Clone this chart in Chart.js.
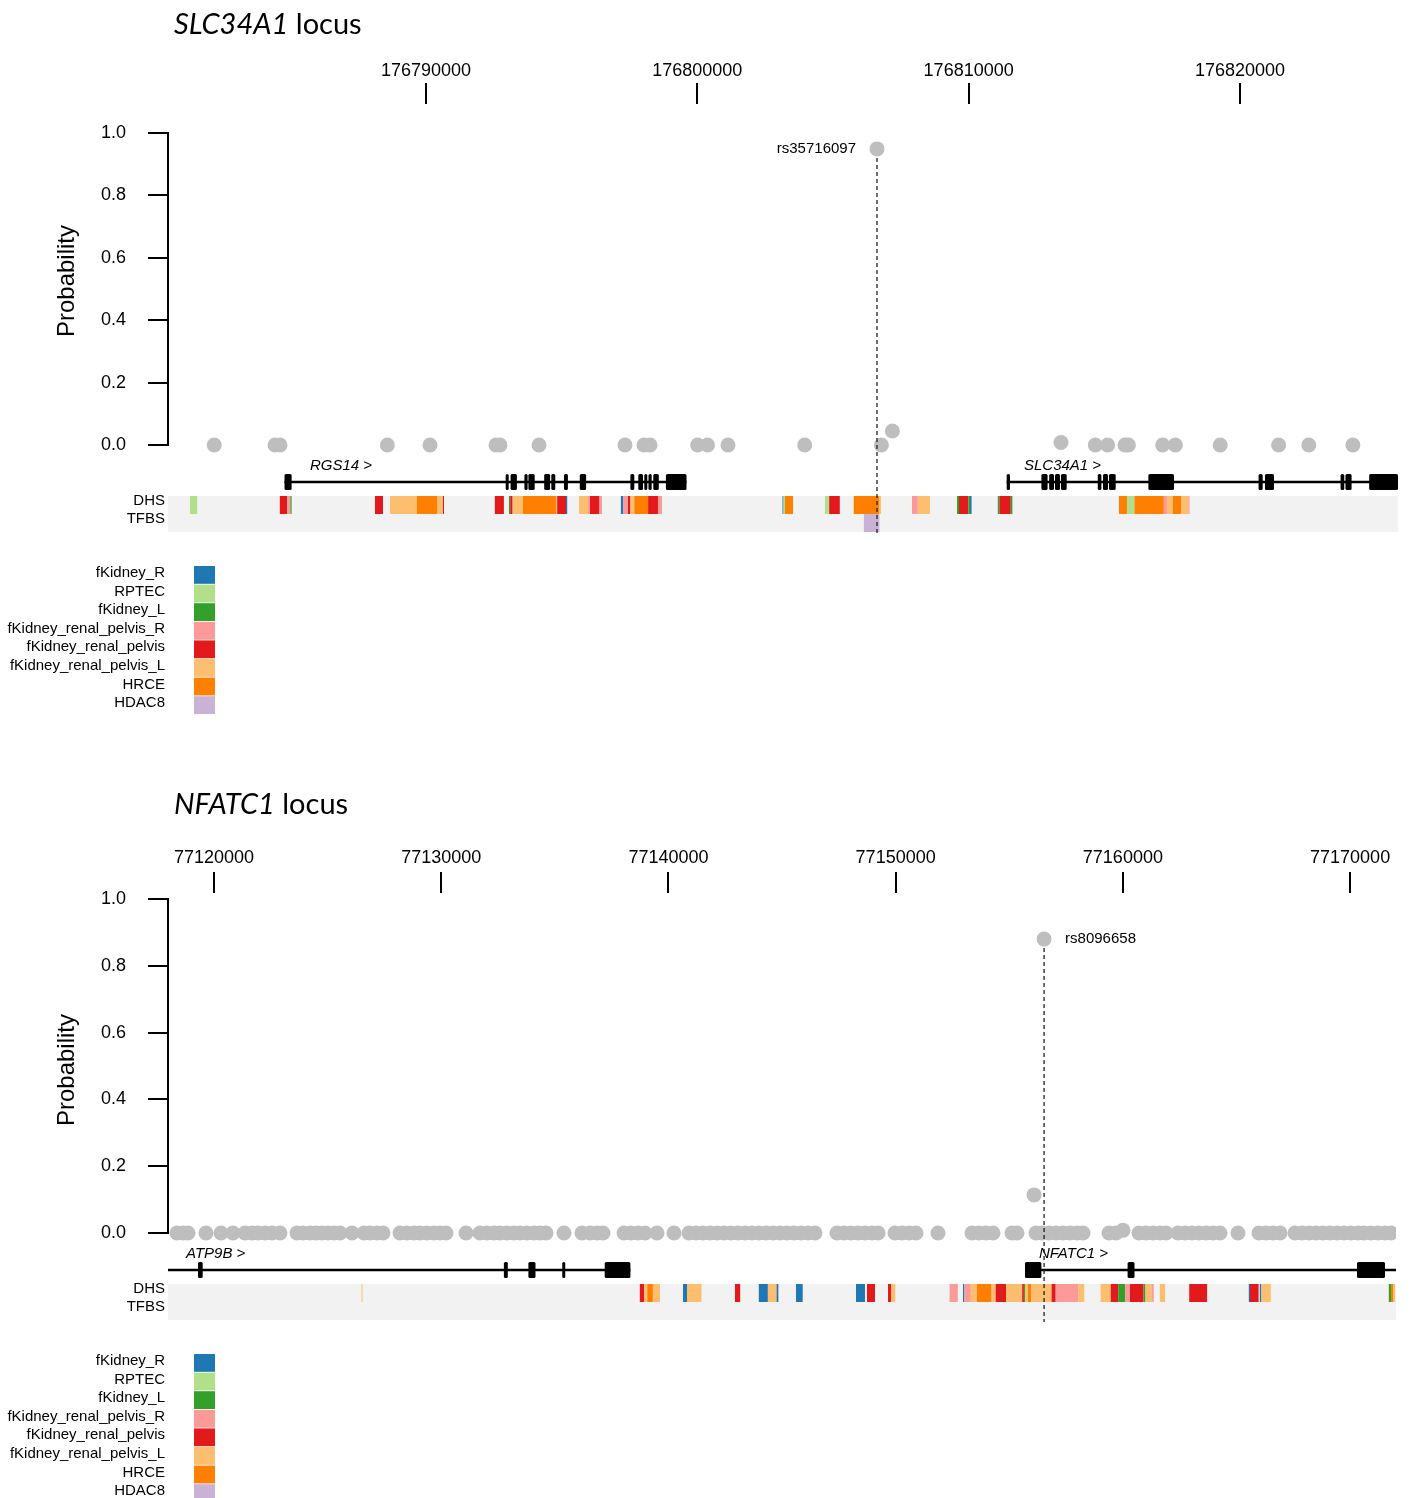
<!DOCTYPE html>
<html><head><meta charset="utf-8">
<script src="https://cdn.jsdelivr.net/npm/chart.js@4.4.1/dist/chart.umd.min.js"></script>
<style>
body{margin:0;background:#fff;width:1411px;height:1498px;position:relative;overflow:hidden}
canvas{position:absolute;left:0}
.title{position:absolute;left:174px;font-family:Lato,'Open Sans',sans-serif;font-size:29px;color:#000;white-space:nowrap;line-height:1}
</style></head><body>
<canvas id="c1" width="1411" height="750" style="top:0"></canvas>
<canvas id="c2" width="1411" height="738" style="top:760px"></canvas>
<div class="title" style="top:8px"><i>SLC34A1</i> locus</div>
<div class="title" style="top:788px"><i>NFATC1</i> locus</div>
<script>
// ---------- shared ----------
const cellTypes = ['fKidney_R','RPTEC','fKidney_L','fKidney_renal_pelvis_R','fKidney_renal_pelvis','fKidney_renal_pelvis_L','HRCE','HDAC8'];
const cellColors = ['#1f78b4','#b2df8a','#33a02c','#fb9a99','#e31a1c','#fdbf6f','#ff7f00','#cab2d6'];
const probTicks = [0, 0.2, 0.4, 0.6, 0.8, 1.0];

// ---------- SLC34A1 locus ----------
const slcTicks = [176790000, 176800000, 176810000, 176820000];
const slcSnps = [[176782194,0],[176784435,0],[176784619,0],[176788577,0],[176790147,0],[176792580,0],[176792727,0],[176794165,0],[176797334,0],[176798034,0],[176798256,0],[176800010,0],[176800375,0],[176801130,0],[176803957,0],[176806622,0.949],[176806784,0],[176807189,0.045],[176813403,0.008],[176814667,0],[176815121,0],[176815762,0],[176815887,0],[176817151,0],[176817616,0],[176819271,0],[176821423,0],[176822536,0],[176824161,0]];
const slcLead = ['rs35716097', 176806622, 0.949];
const slcGenes = [
  ['RGS14', 176784785, 176799601, 176785725],
  ['SLC34A1', 176811402, 176827000, 176812039]
];
const slcExons = {
  RGS14: [[176784785,176785047],[176792941,176793044],[176793118,176793350],[176793627,176793745],[176793774,176794006],[176794356,176794574],[176794618,176794765],[176795086,176795230],[176795668,176795901],[176797533,176797677],[176797824,176797998],[176798057,176798145],[176798200,176798318],[176798377,176798580],[176798842,176799601]],
  SLC34A1: [[176811402,176811523],[176812681,176812909],[176812968,176813145],[176813182,176813366],[176813403,176813613],[176814759,176814892],[176814951,176815135],[176815172,176815419],[176816624,176817568],[176820686,176820837],[176820921,176821253],[176823708,176823844],[176823888,176824113],[176824762,176826500]]
};
const slcDHS = [[176781302,176781568,'RPTEC'],[176784612,176784888,'fKidney_renal_pelvis'],[176784888,176785002,'fKidney_renal_pelvis_R'],[176785002,176785047,'fKidney_L'],
 [176788120,176788415,'fKidney_renal_pelvis'],[176788673,176789668,'fKidney_renal_pelvis_L'],[176789668,176790424,'HRCE'],[176790424,176790627,'fKidney_renal_pelvis_L'],[176790627,176790663,'fKidney_renal_pelvis'],
 [176792536,176792871,'fKidney_renal_pelvis'],[176793059,176793103,'fKidney_L'],[176793103,176793192,'fKidney_renal_pelvis'],[176793192,176793568,'fKidney_renal_pelvis_L'],[176793568,176794791,'HRCE'],[176794791,176794835,'fKidney_renal_pelvis_L'],[176794835,176795160,'fKidney_renal_pelvis'],[176795160,176795204,'fKidney_R'],
 [176795639,176795971,'fKidney_renal_pelvis_L'],[176795971,176796044,'fKidney_renal_pelvis_R'],[176796044,176796394,'fKidney_renal_pelvis'],[176796394,176796486,'fKidney_renal_pelvis_R'],
 [176797183,176797268,'fKidney_R'],[176797268,176797445,'fKidney_renal_pelvis_R'],[176797445,176797533,'fKidney_renal_pelvis'],[176797533,176797677,'fKidney_renal_pelvis_L'],[176797677,176798186,'HRCE'],[176798186,176798550,'fKidney_renal_pelvis'],[176798550,176798698,'fKidney_renal_pelvis_R'],
 [176803139,176803176,'fKidney_R'],[176803176,176803231,'RPTEC'],[176803231,176803526,'HRCE'],
 [176804705,176804860,'RPTEC'],[176804860,176805251,'fKidney_renal_pelvis'],
 [176805763,176806695,'HRCE'],[176806695,176806769,'fKidney_renal_pelvis_L'],
 [176807912,176808126,'fKidney_renal_pelvis_R'],[176808126,176808575,'fKidney_renal_pelvis_L'],
 [176809570,176809644,'fKidney_L'],[176809644,176809990,'fKidney_renal_pelvis'],[176809990,176810049,'fKidney_L'],[176810049,176810108,'fKidney_R'],
 [176811074,176811133,'fKidney_L'],[176811133,176811553,'fKidney_renal_pelvis'],[176811553,176811612,'fKidney_L'],
 [176815541,176815835,'HRCE'],[176815835,176816112,'RPTEC'],[176816112,176817195,'HRCE'],[176817195,176817309,'fKidney_renal_pelvis_R'],[176817309,176817527,'fKidney_renal_pelvis_L'],[176817527,176817826,'HRCE'],[176817826,176818098,'fKidney_renal_pelvis_L'],[176818098,176818142,'fKidney_renal_pelvis_R']];
const slcTFBS = [[176806139,176806710,'HDAC8']];

// ---------- NFATC1 locus ----------
const nfatTicks = [77120000, 77130000, 77140000, 77150000, 77160000, 77170000];
const nfatSnps = [[77118372,0],[77118636,0],[77118856,0],[77119648,0],[77120308,0],[77120836,0],[77121364,0],[77121672,0],[77121936,0],[77122245,0],[77122553,0],[77122905,0],[77123653,0],[77123917,0],[77124225,0],[77124489,0],[77124753,0],[77125017,0],[77125281,0],[77125545,0],[77126073,0],[77126602,0],[77126866,0],[77127174,0],[77127438,0],[77128186,0],[77128494,0],[77128802,0],[77129066,0],[77129374,0],[77129682,0],[77129946,0],[77130210,0],[77131091,0],[77131707,0],[77132015,0],[77132323,0],[77132587,0],[77132895,0],[77133203,0],[77133467,0],[77133775,0],[77134083,0],[77134347,0],[77134611,0],[77135404,0],[77136196,0],[77136548,0],[77136856,0],[77137120,0],[77138044,0],[77138352,0],[77138660,0],[77138968,0],[77139496,0],[77140245,0],[77140905,0],[77141213,0],[77141521,0],[77141829,0],[77142137,0],[77142445,0],[77142753,0],[77143061,0],[77143369,0],[77143677,0],[77143985,0],[77144294,0],[77144602,0],[77144910,0],[77145218,0],[77145526,0],[77145834,0],[77146142,0],[77146450,0],[77147418,0],[77147726,0],[77148034,0],[77148342,0],[77148651,0],[77148959,0],[77149223,0],[77149971,0],[77150279,0],[77150587,0],[77150895,0],[77151863,0],[77153360,0],[77153668,0],[77153976,0],[77154284,0],[77155120,0],[77155340,0],[77156092,0.114],[77156176,0],[77156440,0],[77156532,0.88],[77156748,0],[77157056,0],[77157364,0],[77157673,0],[77157981,0],[77158245,0],[77159389,0],[77159697,0],[77160005,0.008],[77160709,0],[77161017,0],[77161325,0],[77161633,0],[77161898,0],[77162426,0],[77162734,0],[77163042,0],[77163350,0],[77163658,0],[77163966,0],[77164274,0],[77165066,0],[77165990,0],[77166299,0],[77166607,0],[77166915,0],[77167575,0],[77167883,0],[77168191,0],[77168499,0],[77168807,0],[77169115,0],[77169423,0],[77169731,0],[77170039,0],[77170347,0],[77170611,0],[77170920,0],[77171228,0],[77171536,0],[77171800,0]];
const nfatLead = ['rs8096658', 77156532, 0.88];
const nfatGenes = [
  ['ATP9B', 77110000, 77138326, 77118768],
  ['NFATC1', 77155692, 77180000, 77156308]
];
const nfatExons = {
  ATP9B: [[77119296,77119503],[77132758,77132930],[77133837,77134149],[77135333,77135452],[77137195,77138326]],
  NFATC1: [[77155692,77156414],[77160208,77160511],[77170303,77171536]]
};
const nfatDHS = [[77126491,77126535,'fKidney_renal_pelvis_L'],
 [77138740,77138933,'fKidney_renal_pelvis'],[77138933,77139069,'fKidney_renal_pelvis_L'],[77139069,77139316,'HRCE'],[77139316,77139628,'fKidney_renal_pelvis_L'],
 [77140641,77140817,'fKidney_R'],[77140817,77141455,'fKidney_renal_pelvis_L'],
 [77142929,77143158,'fKidney_renal_pelvis'],
 [77143977,77144377,'fKidney_R'],[77144377,77144760,'fKidney_renal_pelvis_L'],[77144760,77144839,'fKidney_R'],
 [77145614,77145909,'fKidney_R'],
 [77148254,77148650,'fKidney_R'],[77148739,77149091,'fKidney_renal_pelvis'],
 [77149663,77149804,'fKidney_renal_pelvis'],[77149804,77149984,'fKidney_renal_pelvis_L'],
 [77152374,77152735,'fKidney_renal_pelvis_R'],[77152963,77153021,'fKidney_R'],[77153021,77153307,'fKidney_renal_pelvis_R'],[77153307,77153580,'fKidney_renal_pelvis_L'],[77153580,77154222,'HRCE'],[77154222,77154403,'fKidney_renal_pelvis_L'],[77154403,77154856,'fKidney_renal_pelvis'],[77154856,77155569,'fKidney_renal_pelvis_L'],[77155569,77155644,'fKidney_renal_pelvis'],[77155644,77155692,'fKidney_L'],[77155692,77155824,'fKidney_renal_pelvis_L'],[77155824,77155965,'HRCE'],[77155965,77156863,'fKidney_renal_pelvis_L'],[77156863,77157043,'fKidney_renal_pelvis'],[77157043,77158033,'fKidney_renal_pelvis_R'],[77158033,77158302,'fKidney_renal_pelvis_L'],
 [77159019,77159468,'fKidney_renal_pelvis_L'],[77159468,77159794,'fKidney_renal_pelvis'],[77159794,77160098,'fKidney_L'],[77160098,77160313,'fKidney_renal_pelvis_R'],[77160313,77160907,'fKidney_renal_pelvis'],[77160907,77160995,'fKidney_L'],[77160995,77161264,'fKidney_renal_pelvis_L'],[77161264,77161356,'fKidney_renal_pelvis_R'],
 [77161625,77161858,'fKidney_renal_pelvis_L'],
 [77162919,77163706,'fKidney_renal_pelvis'],
 [77165542,77165594,'fKidney_R'],[77165594,77165973,'fKidney_renal_pelvis'],[77166026,77166096,'fKidney_R'],[77166096,77166510,'fKidney_renal_pelvis_L'],
 [77171703,77171800,'fKidney_L'],[77171800,77171888,'HRCE'],[77171888,77171976,'fKidney_renal_pelvis_L']];
const nfatTFBS = [];

// ---------- drawing ----------
const FONT = "'Liberation Sans', Arial, Helvetica, sans-serif";

function trackPlugin(p) {
  return {
    id: 'tracks',
    beforeDatasetsDraw(chart) {
      const ctx = chart.ctx, xs = chart.scales.x, ys = chart.scales.y, a = chart.chartArea;
      const y0 = ys.getPixelForValue(0);
      const X = v => xs.getPixelForValue(v);
      const clampSeg = (s, e) => { const x1 = Math.max(X(s), a.left), x2 = Math.min(X(e), a.right); return [x1, Math.max(x2 - x1, 1)]; };
      ctx.save();
      ctx.fillStyle = '#f2f2f2';
      ctx.fillRect(a.left, y0 + 51, a.right - a.left, 36);
      p.dhs.forEach(([s, e, c]) => { const [x, w] = clampSeg(s, e); ctx.fillStyle = cellColors[cellTypes.indexOf(c)]; ctx.fillRect(x, y0 + 51, w, 18); });
      p.tfbs.forEach(([s, e, c]) => { const [x, w] = clampSeg(s, e); ctx.fillStyle = cellColors[cellTypes.indexOf(c)]; ctx.fillRect(x, y0 + 69, w, 18); });
      // genes
      p.genes.forEach(([name, gs, ge, lp]) => {
        const gx1 = Math.max(X(gs), a.left), gx2 = Math.min(X(ge), a.right);
        ctx.strokeStyle = '#000'; ctx.lineWidth = 2.5;
        ctx.beginPath(); ctx.moveTo(gx1, y0 + 37); ctx.lineTo(gx2, y0 + 37); ctx.stroke();
        ctx.fillStyle = '#000';
        p.exons[name].forEach(([s, e]) => {
          let x1 = Math.max(X(s), a.left), x2 = Math.min(X(e), a.right);
          if (x2 - x1 < 3) { const m = (x1 + x2) / 2; x1 = m - 1.5; x2 = m + 1.5; }
          ctx.beginPath();
          if (ctx.roundRect) ctx.roundRect(x1, y0 + 29, x2 - x1, 16, 1.5); else ctx.rect(x1, y0 + 29, x2 - x1, 16);
          ctx.fill();
        });
        ctx.font = 'italic 15px ' + FONT; ctx.textAlign = 'left'; ctx.textBaseline = 'middle';
        ctx.fillText(name + ' >', X(lp), y0 + 20.5);
      });
      ctx.restore();
    },
    afterDatasetsDraw(chart) {
      const ctx = chart.ctx, xs = chart.scales.x, ys = chart.scales.y, a = chart.chartArea;
      const y0 = ys.getPixelForValue(0), y1 = ys.getPixelForValue(1);
      ctx.save();
      // y axis line
      ctx.strokeStyle = '#000'; ctx.lineWidth = 2;
      ctx.beginPath(); ctx.moveTo(a.left, y1 - 1); ctx.lineTo(a.left, y0 + 1); ctx.stroke();
      // lead SNP dashed line + label
      const [lname, lpos, lprob] = p.lead;
      const lx = xs.getPixelForValue(lpos), ly = ys.getPixelForValue(lprob);
      ctx.strokeStyle = '#222'; ctx.lineWidth = 1.3; ctx.setLineDash([4, 3]);
      ctx.beginPath(); ctx.moveTo(lx, ly + 9); ctx.lineTo(lx, y0 + 89); ctx.stroke();
      ctx.setLineDash([]);
      ctx.fillStyle = '#000'; ctx.font = '15px ' + FONT; ctx.textBaseline = 'middle';
      if (p.leadSide === 'left') { ctx.textAlign = 'right'; ctx.fillText(lname, lx - 21, ly); }
      else { ctx.textAlign = 'left'; ctx.fillText(lname, lx + 21, ly); }
      // track labels
      ctx.textAlign = 'right';
      ctx.fillText('DHS', 165, y0 + 55.5);
      ctx.fillText('TFBS', 165, y0 + 74);
      // y title
      ctx.save();
      ctx.translate(67, (y0 + y1) / 2 + p.titleShift);
      ctx.rotate(-Math.PI / 2);
      ctx.font = '24px ' + FONT; ctx.textAlign = 'center'; ctx.textBaseline = 'middle';
      ctx.fillText('Probability', 0, 0);
      ctx.restore();
      // legend
      const top = y0 + 121, rh = 18.6;
      cellTypes.forEach((c, i) => {
        ctx.fillStyle = cellColors[i];
        ctx.fillRect(194, top + i * rh, 21, rh - 0.8);
        ctx.fillStyle = '#000'; ctx.font = '15px ' + FONT; ctx.textAlign = 'right'; ctx.textBaseline = 'middle';
        ctx.fillText(c, 165, top + i * rh + rh / 2 - 2.5);
      });
      ctx.restore();
    }
  };
}

function makeChart(id, p) {
  return new Chart(document.getElementById(id), {
    type: 'scatter',
    data: { datasets: [{ data: p.snps.map(([x, y]) => ({ x, y })), backgroundColor: '#bebebe', borderWidth: 0, pointRadius: 7.5, pointHoverRadius: 7.5 }] },
    options: {
      responsive: false, animation: false, devicePixelRatio: 1, events: [],
      layout: { padding: { left: 0, top: 0, right: p.padRight, bottom: p.padBottom } },
      plugins: { legend: { display: false }, tooltip: { enabled: false }, title: { display: false } },
      scales: {
        x: {
          type: 'linear', position: 'top', min: p.xmin, max: p.xmax,
          afterBuildTicks: s => { s.ticks = p.xticks.map(v => ({ value: v })); },
          afterFit: s => { s.height = p.top; },
          ticks: { callback: v => String(v), color: '#000', font: { family: FONT, size: 18 }, padding: p.tickPad, autoSkip: false, maxRotation: 0 },
          grid: { drawOnChartArea: false, drawTicks: true, tickLength: 21, color: '#000', lineWidth: 2 },
          border: { display: false }
        },
        y: {
          type: 'linear', min: p.ymin, max: p.ymax,
          afterBuildTicks: s => { s.ticks = probTicks.map(v => ({ value: v })); },
          afterFit: s => { s.width = 168; },
          ticks: { callback: v => Number(v).toFixed(1), color: '#000', font: { family: FONT, size: 18 }, padding: 22 },
          grid: { drawOnChartArea: false, drawTicks: true, tickLength: 20, color: '#000', lineWidth: 2 },
          border: { display: false }
        }
      }
    },
    plugins: [trackPlugin(p)]
  });
}

makeChart('c1', {
  snps: slcSnps, lead: slcLead, leadSide: 'left', genes: slcGenes, exons: slcExons, dhs: slcDHS, tfbs: slcTFBS, xticks: slcTicks,
  xmin: 176780491, xmax: 176825824, ymin: -0.27885, ymax: 1.09295, top: 104, padRight: 13, padBottom: 218, titleShift: -8, tickPad: 1
});
makeChart('c2', {
  snps: nfatSnps, lead: nfatLead, leadSide: 'right', genes: nfatGenes, exons: nfatExons, dhs: nfatDHS, tfbs: nfatTFBS, xticks: nfatTicks,
  xmin: 77117976, xmax: 77172020, ymin: -0.26048, ymax: 1.01796, top: 133, padRight: 15, padBottom: 178, titleShift: 4, tickPad: 3
});
</script>
</body></html>
